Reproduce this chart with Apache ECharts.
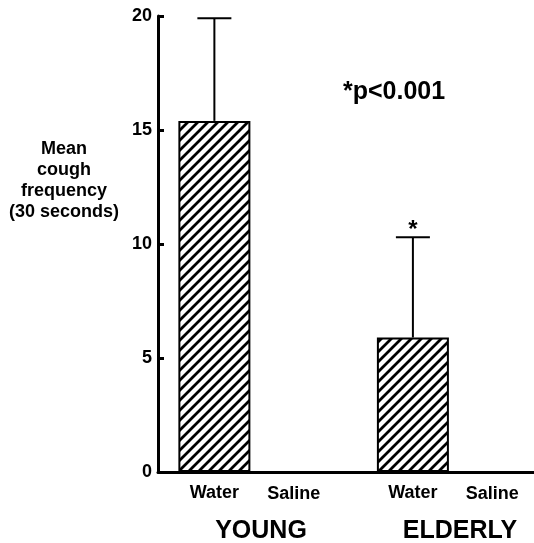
<!DOCTYPE html>
<html>
<head>
<meta charset="utf-8">
<script src="https://cdn.jsdelivr.net/npm/echarts@6/dist/echarts.min.js"></script>
<style>
html,body{margin:0;padding:0;background:#fff;}
#chart{width:534px;height:543px;}
</style>
</head>
<body>
<div id="chart"></div>
<script>
// ---- data ----
var categories = ['Water', 'Saline', 'Water', 'Saline'];
var xPositions = [0, 2, 5, 7];
var meanValues = [15.4, 0, 5.9, 0];
var upperValues = [19.9, null, 10.3, null];
var significance = ['', '', '*', ''];
var groups = ['YOUNG', 'ELDERLY'];
var yTicks = [0, 5, 10, 15, 20];
var yTitle = ['Mean', 'cough', 'frequency', '(30 seconds)'];
var pValueText = '*p<0.001';

var FONT = '"Liberation Sans", Arial, Helvetica, sans-serif';

// hatch pattern
var pc = document.createElement('canvas');
pc.width = 10; pc.height = 10;
var ctx = pc.getContext('2d');
ctx.fillStyle = '#fff';
ctx.fillRect(0, 0, 10, 10);
ctx.strokeStyle = '#000';
ctx.lineWidth = 2.8;
ctx.lineCap = 'square';
ctx.beginPath();
ctx.moveTo(-2, 12); ctx.lineTo(12, -2);
ctx.moveTo(-2, 2); ctx.lineTo(2, -2);
ctx.moveTo(8, 12); ctx.lineTo(12, 8);
ctx.stroke();

var barData = xPositions.map(function (x, i) { return [x, meanValues[i]]; });
var errData = [];
xPositions.forEach(function (x, i) {
  if (upperValues[i] != null) errData.push([x, meanValues[i], upperValues[i], significance[i]]);
});

var chart = echarts.init(document.getElementById('chart'));
chart.setOption({
  animation: false,
  backgroundColor: '#fff',
  grid: { left: 158, right: 0, top: 16, bottom: 71, containLabel: false },
  xAxis: {
    type: 'value', min: -1.42, max: 8.05,
    axisLine: { show: true, onZero: false, lineStyle: { color: '#000', width: 3 } },
    axisTick: { show: false }, axisLabel: { show: false }, splitLine: { show: false }
  },
  yAxis: {
    type: 'value', min: yTicks[0], max: yTicks[yTicks.length - 1], interval: 5,
    axisLine: { show: true, onZero: false, lineStyle: { color: '#000', width: 3 } },
    axisTick: { show: true, inside: true, length: 6, lineStyle: { color: '#000', width: 3 } },
    axisLabel: { color: '#000', fontFamily: FONT, fontWeight: 'bold', fontSize: 18, margin: 6, padding: [6, 0, 0, 0] },
    splitLine: { show: false }
  },
  series: [
    {
      type: 'bar',
      data: barData,
      barWidth: 72,
      itemStyle: { color: { image: pc, repeat: 'repeat' }, borderColor: '#000', borderWidth: 2 },
      label: {
        show: true, position: 'bottom', distance: 12,
        formatter: function (p) { return categories[p.dataIndex]; },
        color: '#000', fontFamily: FONT, fontWeight: 'bold', fontSize: 18
      },
      z: 2
    },
    {
      type: 'custom',
      data: errData,
      encode: { x: 0, y: [1, 2] },
      renderItem: function (params, api) {
        var lo = api.coord([api.value(0), api.value(1)]);
        var hi = api.coord([api.value(0), api.value(2)]);
        var half = 17;
        var children = [
          { type: 'line', shape: { x1: lo[0], y1: lo[1], x2: hi[0], y2: hi[1] }, style: { stroke: '#000', lineWidth: 2 } },
          { type: 'line', shape: { x1: hi[0] - half, y1: hi[1], x2: hi[0] + half, y2: hi[1] }, style: { stroke: '#000', lineWidth: 2 } }
        ];
        var sig = errData[params.dataIndex][3];
        if (sig) {
          children.push({ type: 'text', style: { text: sig, x: hi[0], y: hi[1] + 5, textAlign: 'center', textVerticalAlign: 'bottom', font: 'bold 24px ' + FONT, fill: '#000' } });
        }
        return { type: 'group', children: children };
      },
      z: 3
    }
  ],
  graphic: [
    { type: 'text', left: 343, top: 80, style: { text: pValueText, font: 'bold 25px ' + FONT, fill: '#000' } },
    { type: 'text', x: 64, y: 139, style: { text: yTitle.join('\n'), font: 'bold 18px ' + FONT, lineHeight: 21, textAlign: 'center', fill: '#000' } },
    { type: 'text', x: 261, y: 519, style: { text: groups[0], font: 'bold 25px ' + FONT, textAlign: 'center', fill: '#000' } },
    { type: 'text', x: 460, y: 519, style: { text: groups[1], font: 'bold 25px ' + FONT, textAlign: 'center', fill: '#000' } }
  ]
});
</script>
</body>
</html>
